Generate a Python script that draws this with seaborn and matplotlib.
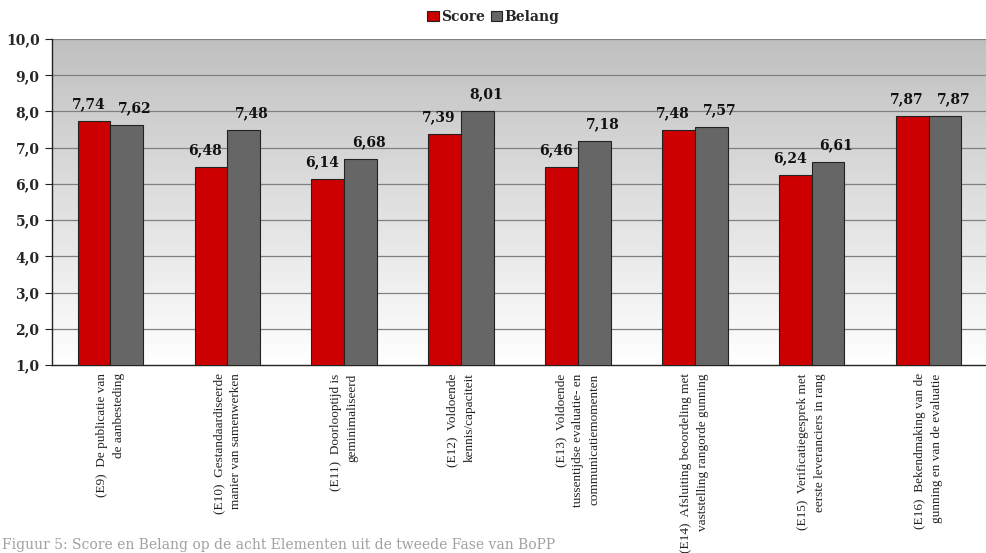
import numpy as np
import pandas as pd
import matplotlib
matplotlib.use('Agg')
import matplotlib.pyplot as plt
import seaborn as sns

# --- Data ---
CATEGORIES = [
    '(E9)  De publicatie van\nde aanbesteding',
    '(E10)  Gestandaardiseerde\nmanier van samenwerken',
    '(E11)  Doorlooptijd is\ngeminimaliseerd',
    '(E12)  Voldoende\nkennis/capaciteit',
    '(E13)  Voldoende\ntussentijdse evaluatie- en\ncommunicatiemomenten',
    '(E14)  Afsluiting beoordeling met\nvaststelling rangorde gunning',
    '(E15)  Verificatiegesprek met\neerste leveranciers in rang',
    '(E16)  Bekendmaking van de\ngunning en van de evaluatie',
]
SCORE = [7.74, 6.48, 6.14, 7.39, 6.46, 7.48, 6.24, 7.87]
BELANG = [7.62, 7.48, 6.68, 8.01, 7.18, 7.57, 6.61, 7.87]
SERIES = ['Score', 'Belang']
Y_TICKS = [1, 2, 3, 4, 5, 6, 7, 8, 9, 10]
CAPTION = 'Figuur 5: Score en Belang op de acht Elementen uit de tweede Fase van BoPP'

COLORS = {'Score': '#cc0000', 'Belang': '#666666'}

df = pd.DataFrame({
    'Element': CATEGORIES * 2,
    'Serie': ['Score'] * len(SCORE) + ['Belang'] * len(BELANG),
    'Waarde': SCORE + BELANG,
})

sns.set_style('white')
plt.rcParams['font.family'] = ['DejaVu Serif']

fig = plt.figure(figsize=(9.87, 5.53), dpi=100)
ax = fig.add_axes([52 / 987, 1 - 365 / 553, 1 - 52 / 987, 326 / 553])

# gradient background (grey at top to white at bottom)
grad = np.linspace(0, 1, 256).reshape(-1, 1)
ax.imshow(grad, extent=(-0.5, 7.5, 1, 10), aspect='auto', origin='lower',
          cmap=matplotlib.colors.LinearSegmentedColormap.from_list('bg', ['#ffffff', '#c0c0c0']),
          zorder=0)

sns.barplot(data=df, x='Element', y='Waarde', hue='Serie', hue_order=SERIES,
            palette=COLORS, width=0.56, edgecolor='#222222', linewidth=0.8,
            saturation=1, ax=ax, zorder=3, legend=True)

# value labels, nudged apart like the original chart
shifts = [-4, 6]
for cont, dx in zip(ax.containers, shifts):
    for bar, v in zip(cont.patches, cont.datavalues):
        ax.annotate(f'{v:.2f}'.replace('.', ','),
                    (bar.get_x() + bar.get_width() / 2, bar.get_height()),
                    xytext=(dx, 7), textcoords='offset points',
                    ha='center', va='bottom', fontsize=10, fontweight='bold',
                    family='DejaVu Serif', color='#111111', zorder=5)

ax.set_xlim(-0.5, 7.5)
ax.set_ylim(1, 10)
ax.set_yticks(Y_TICKS)
ax.set_yticklabels([f'{t:.1f}'.replace('.', ',') for t in Y_TICKS],
                   fontsize=10, fontweight='bold')
for t in Y_TICKS[1:]:
    ax.axhline(t, color='#808080', linewidth=0.9, zorder=1)

# category boundaries as major ticks, labels at minor ticks
ax.set_xticks(np.arange(0.5, 7.5, 1.0))
ax.set_xticklabels([])
ax.set_xticks(np.arange(len(CATEGORIES)), minor=True)
ax.set_xticklabels(CATEGORIES, minor=True, rotation=90, ha='center', va='top',
                   multialignment='right', fontsize=9.5, family='Liberation Serif',
                   linespacing=1.55, color='#222222')
ax.tick_params(axis='x', which='major', length=5, width=0.8, direction='out', color='#222222')
ax.tick_params(axis='x', which='minor', length=0, pad=6)
ax.tick_params(axis='y', length=5, width=0.8, direction='out', color='#222222', pad=4, left=True)
ax.set_xlabel('')
ax.set_ylabel('')

for side in ['top', 'right']:
    ax.spines[side].set_visible(False)
for side in ['left', 'bottom']:
    ax.spines[side].set_color('#222222')
    ax.spines[side].set_linewidth(1.0)

handles, lbls = ax.get_legend_handles_labels()
ax.legend(handles, lbls, loc='center', bbox_to_anchor=(0.5, 1 - 17 / 553),
          bbox_transform=fig.transFigure, ncol=2, frameon=False,
          prop={'family': 'DejaVu Serif', 'weight': 'bold', 'size': 10},
          handlelength=0.8, handleheight=0.8, handletextpad=0.2, columnspacing=0.4)

fig.text(0.002, 0.002, CAPTION, fontsize=10, color='#a0a0a0', family='DejaVu Serif',
         ha='left', va='bottom')

fig.savefig('out.png', dpi=100)
